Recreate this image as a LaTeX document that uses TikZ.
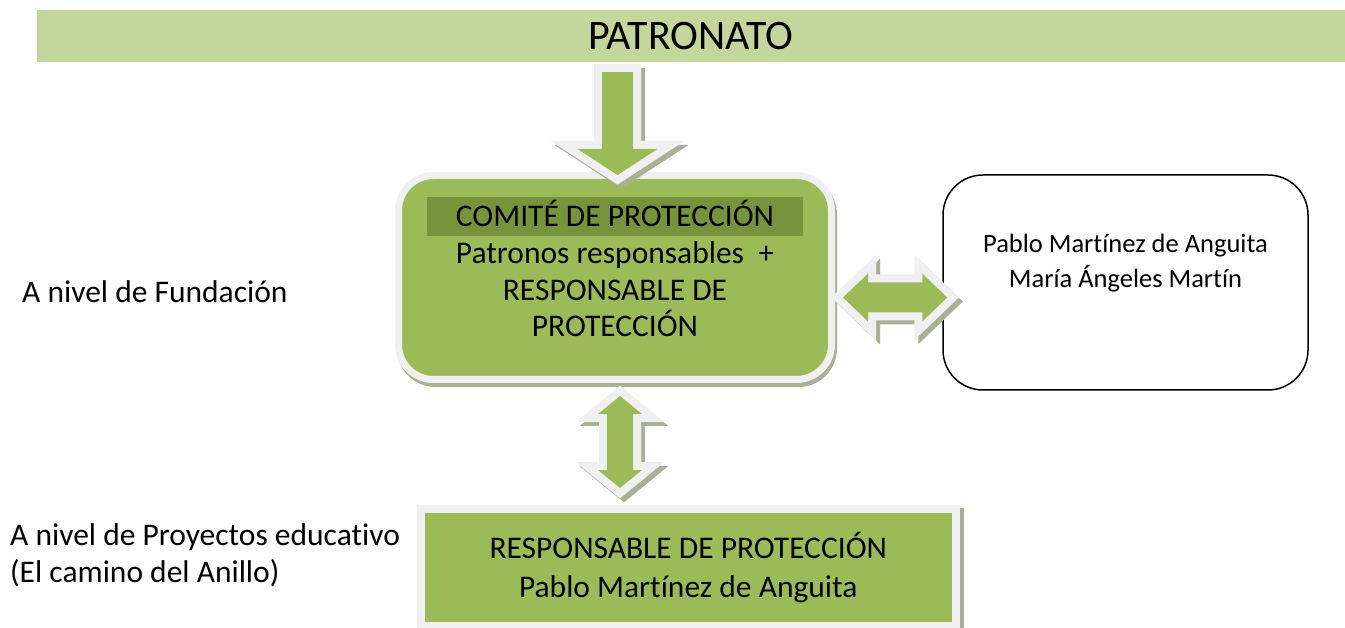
\documentclass[tikz,border=0pt]{standalone}
\usepackage{fontspec}
\setmainfont{Carlito}[Ligatures=NoCommon]
\usetikzlibrary{calc}

\definecolor{bannerc}{HTML}{C3D69B}
\definecolor{greenc}{HTML}{9BBB59}
\definecolor{headerc}{HTML}{77933C}
\definecolor{bordc}{HTML}{F0F0F0}
\definecolor{shadowc}{RGB}{168,177,150}

\newcommand{\txtbig}{\fontsize{31.5}{36.5}\selectfont}
\newcommand{\txtsmall}{\fontsize{26.5}{35}\selectfont}

\tikzset{
  lbl/.style={inner sep=0pt, font=\txtbig},
  blockstyle/.style={fill=greenc, line join=miter,
    preaction={draw=shadowc, fill=shadowc, line width=16pt, line join=miter,
      transform canvas={shift={(4pt,-4pt)}}},
    preaction={draw=bordc, line width=16pt, line join=miter}},
  fatarrow/.style n args={3}{blockstyle, to path={
    -- ($(\tikztostart)!#1!90:(\tikztotarget)$)
    -- ($($(\tikztotarget)!#3!(\tikztostart)$)!#1!-90:(\tikztostart)$)
    -- ($($(\tikztotarget)!#3!(\tikztostart)$)!#2!-90:(\tikztostart)$)
    -- (\tikztotarget)
    -- ($($(\tikztotarget)!#3!(\tikztostart)$)!#2!90:(\tikztostart)$)
    -- ($($(\tikztotarget)!#3!(\tikztostart)$)!#1!90:(\tikztostart)$)
    -- ($(\tikztostart)!#1!-90:(\tikztotarget)$)
    -- cycle}},
  dblarrow/.style n args={3}{blockstyle, to path={
    -- ($($(\tikztostart)!#3!(\tikztotarget)$)!#2!90:(\tikztotarget)$)
    -- ($($(\tikztostart)!#3!(\tikztotarget)$)!#1!90:(\tikztotarget)$)
    -- ($($(\tikztotarget)!#3!(\tikztostart)$)!#1!-90:(\tikztostart)$)
    -- ($($(\tikztotarget)!#3!(\tikztostart)$)!#2!-90:(\tikztostart)$)
    -- (\tikztotarget)
    -- ($($(\tikztotarget)!#3!(\tikztostart)$)!#2!90:(\tikztostart)$)
    -- ($($(\tikztotarget)!#3!(\tikztostart)$)!#1!90:(\tikztostart)$)
    -- ($($(\tikztostart)!#3!(\tikztotarget)$)!#1!-90:(\tikztotarget)$)
    -- ($($(\tikztostart)!#3!(\tikztotarget)$)!#2!-90:(\tikztotarget)$)
    -- cycle}}
}

\begin{document}
\begin{tikzpicture}[x=1pt,y=-1pt,
  comitebox/.style={draw=bordc, line width=7pt, fill=greenc, rounded corners=35pt,
    minimum width=433pt, minimum height=204pt, inner sep=0pt,
    preaction={fill=shadowc, draw=shadowc, transform canvas={shift={(2pt,-4pt)}}}},
  respbox/.style={draw=bordc, line width=8pt, fill=greenc,
    minimum width=534.5pt, minimum height=117pt, inner sep=0pt,
    preaction={fill=shadowc, draw=shadowc, transform canvas={shift={(4pt,-3pt)}}}}]
\useasboundingbox (0,0) rectangle (1345,628);

% cabecera
\node[fill=bannerc, minimum width=1308pt, minimum height=52pt, inner sep=0pt,
  font=\fontsize{42}{48}\selectfont] (patronato) at (691,36) {PATRONATO};

% comite
\node[comitebox] (comite) at (615,277.5) {};
\node[fill=headerc, minimum width=376pt, minimum height=39pt, inner sep=0pt,
  text height=20pt, text depth=0pt, font=\txtbig] (comitetit) at (615,216.5) {COMITÉ DE PROTECCIÓN};
\node[lbl, align=center] (comitetxt) at (615,289.5) {Patronos responsables~~+\\RESPONSABLE DE\\PROTECCIÓN};

% miembros
\node[draw=black, line width=1.5pt, fill=white, rounded corners=40pt,
  minimum width=365pt, minimum height=215pt] (miembros) at (1125.5,282.5) {};
\node[inner sep=0pt, align=center, font=\txtsmall] (miembrostxt) at (1125.5,263) {Pablo Martínez de Anguita\\María Ángeles Martín};

% responsable
\node[respbox, align=center, font=\fontsize{31.5}{39}\selectfont] (responsable) at (688.25,567.5)
  {RESPONSABLE DE PROTECCIÓN\\Pablo Martínez de Anguita};

% niveles
\node[lbl, anchor=base west] (fundacion) at (22,303) {A nivel de Fundación};
\node[lbl, anchor=west, align=left, font=\fontsize{31.5}{37}\selectfont] (proyectos) at (10,555.3)
  {A nivel de Proyectos educativo\\(El camino del Anillo)};

% flechas
\path[fatarrow={15.5pt}{40pt}{26pt}] ($(comite.north |- patronato.south)+(2.5,10)$) to ($(comite.north)+(2.5,3)$);
\path[dblarrow={15pt}{24pt}{25pt}] ($(comite.east)+(8,20)$) to ($(miembros.west)+(5,15)$);
\path[dblarrow={13pt}{22pt}{18pt}] ($(comite.south)+(5,13)$) to ($(responsable.north -| comite.south)+(5,-17)$);
\end{tikzpicture}
\end{document}
